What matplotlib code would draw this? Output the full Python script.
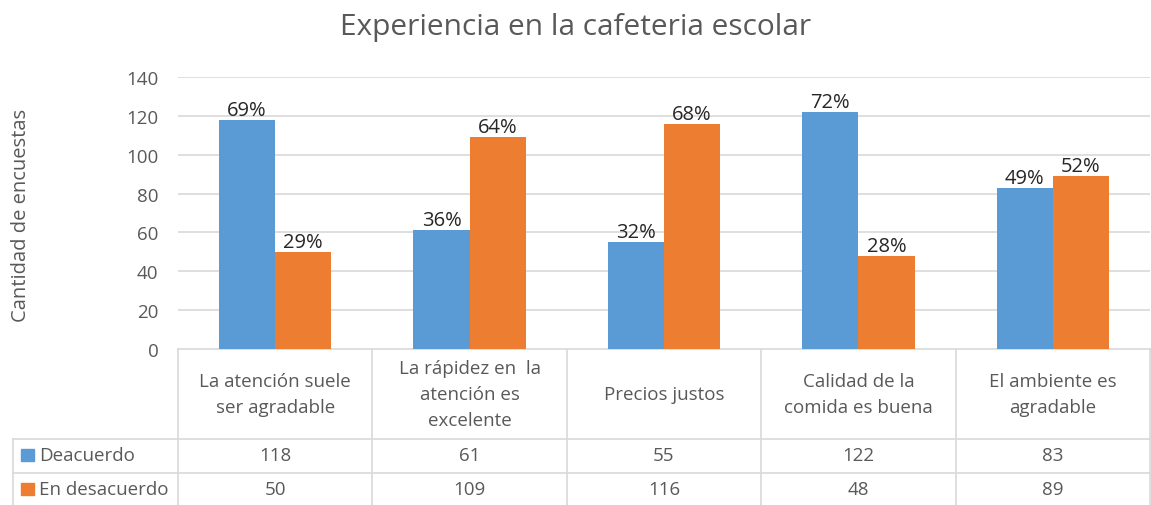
import matplotlib
matplotlib.use("Agg")
from matplotlib import pyplot as plt
import numpy as np

# datos de la encuesta
categorias = ["La atención suele\nser agradable",
              "La rápidez en  la\natención es\nexcelente",
              "Precios justos",
              "Calidad de la\ncomida es buena",
              "El ambiente es\nagradable"]
series = ["Deacuerdo", "En desacuerdo"]
deacuerdo = [118, 61, 55, 122, 83]
desacuerdo = [50, 109, 116, 48, 89]
pct_deacuerdo = ["69%", "36%", "32%", "72%", "49%"]
pct_desacuerdo = ["29%", "64%", "68%", "28%", "52%"]
yticks = [0, 20, 40, 60, 80, 100, 120, 140]

azul = "#5B9BD5"
naranja = "#ED7D31"
gris = "#595959"
linea = "#D9D9D9"

plt.rcParams['font.family'] = ['Open Sans', 'DejaVu Sans']

W, H = 1151, 506
fig = plt.figure(figsize=(W/100, H/100), dpi=100)

# zona del grafico en pixeles
x0, x1, y_top, y_bot = 178, 1150, 78, 350
ax = fig.add_axes([x0/W, 1 - y_bot/H, (x1 - x0)/W, (y_bot - y_top)/H])
x = np.arange(len(categorias))
w = 0.289
b1 = ax.bar(x - w/2, deacuerdo, w, color=azul)
b2 = ax.bar(x + w/2, desacuerdo, w, color=naranja)
for barras, etiquetas in ((b1, pct_deacuerdo), (b2, pct_desacuerdo)):
    for b, t in zip(barras, etiquetas):
        ax.annotate(t, (b.get_x() + b.get_width()/2, b.get_height()),
                    xytext=(0, 0), textcoords="offset points",
                    ha="center", va="bottom", fontsize=14.5, color="#262626")
ax.set_xlim(-0.5, len(categorias) - 0.5)
ax.set_ylim(0, 140)
ax.set_yticks(yticks)
ax.tick_params(axis="y", length=0, pad=14, labelsize=13.5, labelcolor=gris)
ax.set_xticks([])
ax.grid(axis="y", color=linea, linewidth=1.2)
ax.set_axisbelow(True)
for s in ax.spines.values():
    s.set_visible(False)

fig.text(21/W, 1 - 215/H, "Cantidad de encuestas", rotation=90, ha="center", va="center",
         fontsize=14.5, color=gris)
fig.suptitle("Experiencia en la cafeteria escolar", fontsize=21.5, color=gris, y=1 - 28/H, va="center")

# tabla de datos dibujada en pixeles
tab = fig.add_axes([0, 0, 1, 1], zorder=-1)
tab.set_xlim(0, W)
tab.set_ylim(H, 0)
tab.axis("off")

bordes = [ax.transData.transform((k - 0.5, 0))[0] for k in range(len(categorias) + 1)]
centros = [ax.transData.transform((k, 0))[0] for k in range(len(categorias))]
fila1, fila2, fila3 = 440, 474, 508
tab.plot([bordes[0], bordes[-1]], [y_bot, y_bot], color=linea, lw=1.2)
for bx in bordes:
    tab.plot([bx, bx], [y_bot, H], color=linea, lw=1.2)
for fy in (fila1, fila2):
    tab.plot([13, bordes[-1]], [fy, fy], color=linea, lw=1.2)
tab.plot([13, 13], [fila1, H], color=linea, lw=1.2)

for cx, cat in zip(centros, categorias):
    tab.text(cx, (y_bot + fila1)/2, cat, ha="center", va="center",
             fontsize=13.5, color=gris, linespacing=1.55)
for fy0, fy1, nombre, color, vals in ((fila1, fila2, series[0], azul, deacuerdo),
                                      (fila2, fila3, series[1], naranja, desacuerdo)):
    cy = (fy0 + fy1)/2 - 1
    tab.add_patch(plt.Rectangle((21, cy - 6), 13, 12, color=color))
    tab.text(39, cy, nombre, ha="left", va="center", fontsize=13.5, color=gris)
    for cx, v in zip(centros, vals):
        tab.text(cx, cy, str(v), ha="center", va="center", fontsize=13.5, color=gris)

fig.savefig("out.png", dpi=100)
